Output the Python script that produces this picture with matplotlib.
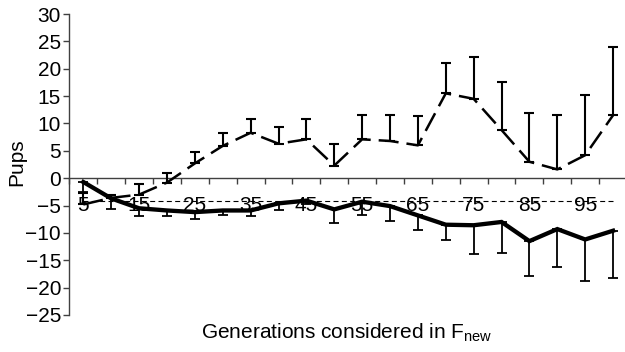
import numpy as np
import matplotlib
matplotlib.use('Agg')
import matplotlib.pyplot as plt

plt.rcParams['font.family'] = ['Liberation Sans', 'DejaVu Sans']
plt.rcParams['mathtext.fontset'] = 'custom'
plt.rcParams['mathtext.rm'] = 'Liberation Sans'
plt.rcParams['mathtext.it'] = 'Liberation Sans:italic'

# generations considered in F_new
generations = [5, 10, 15, 20, 25, 30, 35, 40, 45, 50,
               55, 60, 65, 70, 75, 80, 85, 90, 95, 100]
tick_labels = ['5', '15', '25', '35', '45', '55', '65', '75', '85', '95']

# dashed series (upper error only)
dashed_vals = [-4.8, -3.6, -3.0, -0.8, 2.7, 5.9, 8.3, 6.3, 7.1, 2.3,
               7.1, 6.8, 6.0, 15.5, 14.5, 8.8, 3.0, 1.6, 4.2, 11.5]
dashed_top = [-2.7, -3.0, -1.1, 1.0, 4.8, 8.2, 10.9, 9.4, 10.8, 6.2,
              11.5, 11.6, 11.3, 21.1, 22.1, 17.6, 11.9, 11.5, 15.2, 24.0]

# solid series (lower error only)
solid_vals = [-0.7, -3.7, -5.5, -5.9, -6.2, -5.9, -5.9, -4.6, -4.1, -5.7,
              -4.3, -5.1, -6.8, -8.5, -8.6, -8.0, -11.5, -9.3, -11.2, -9.6]
solid_bottom = [-2.5, -5.7, -7.0, -7.0, -7.4, -6.8, -7.0, -5.9, -4.8, -8.1,
                -6.8, -7.9, -9.5, -11.3, -13.8, -13.7, -17.9, -16.3, -18.8, -18.2]

ref_level = -4.2

x = np.arange(len(generations))
d = np.array(dashed_vals)
s = np.array(solid_vals)
up = np.array(dashed_top) - d
dn = s - np.array(solid_bottom)

fig = plt.figure(figsize=(6.25, 3.52), dpi=100)
ax = fig.add_axes([69.4 / 625, 37 / 352, 557.6 / 625, 301 / 352])

ax.plot([x[0], x[-1]], [ref_level, ref_level], color='black', lw=0.8,
        ls=(0, (4.5, 3.0)), zorder=1)

ax.errorbar(x, d, yerr=[np.zeros_like(up), up], fmt='none', ecolor='black',
            elinewidth=1.5, capsize=3.6, capthick=1.5, zorder=3)
ax.plot(x, d, color='black', lw=1.8, ls=(0, (8, 3.2)), zorder=3)

ax.errorbar(x, s, yerr=[dn, np.zeros_like(dn)], fmt='none', ecolor='black',
            elinewidth=1.3, capsize=3.6, capthick=1.3, zorder=4)
ax.plot(x, s, color='black', lw=3.1, solid_joinstyle='miter', zorder=4)

ax.set_xlim(-0.5, len(generations) - 0.5)
ax.set_ylim(-25, 30)
ax.set_yticks(np.arange(-25, 31, 5))
ax.set_xticks(x[::2])
ax.set_xticklabels(tick_labels)
ax.set_xticks(np.arange(-0.5, len(generations), 1), minor=True)

for sp in ['top', 'right']:
    ax.spines[sp].set_visible(False)
ax.spines['bottom'].set_position(('data', 0))
for sp in ['left', 'bottom']:
    ax.spines[sp].set_color('#404040')
    ax.spines[sp].set_linewidth(1.0)

ax.tick_params(axis='y', direction='out', length=4.5, width=1.0, color='#404040',
               labelsize=15, pad=1.5)
ax.tick_params(axis='x', which='major', length=0, labelsize=15, pad=13)
ax.tick_params(axis='x', which='minor', direction='out', length=4, width=1.0,
               color='#404040')

fig.text(17 / 625, 1 - 162 / 352, 'Pups', rotation=90, ha='center', va='center',
         fontsize=15)
fig.text(347 / 625, 1 - 339 / 352, 'Generations considered in F$_{\\mathrm{new}}$',
         ha='center', va='baseline', fontsize=15)

fig.savefig('out.png', dpi=100)
